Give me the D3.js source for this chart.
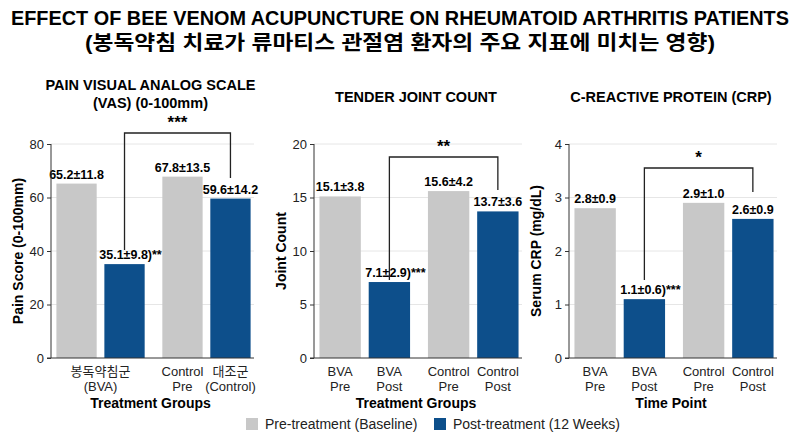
<!DOCTYPE html>
<html><head><meta charset="utf-8">
<script src="https://cdn.jsdelivr.net/npm/d3@7"></script>
<style>
body{margin:0;background:#fff;font-family:"Liberation Sans",Arial,"Noto Sans CJK KR",sans-serif;}
.grid line{stroke:#e6e6e6;}
.axis text{font-size:13px;fill:#222;}
.axis path,.axis line{stroke:#333;}
</style></head>
<body><div id="chart"></div>
<script>
// data
const keys = ["bvaPre", "bvaPost", "ctlPre", "ctlPost"];
const vasValues = [65.2, 35.1, 67.8, 59.6];
const vasLabels = ["65.2±11.8", "35.1±9.8)**", "67.8±13.5", "59.6±14.2"];
const tjcValues = [15.1, 7.1, 15.6, 13.7];
const tjcLabels = ["15.1±3.8", "7.1±2.9)***", "15.6±4.2", "13.7±3.6"];
const crpValues = [2.8, 1.1, 2.9, 2.6];
const crpLabels = ["2.8±0.9", "1.1±0.6)***", "2.9±1.0", "2.6±0.9"];
const tickTextsBva = ["BVA|Pre", "BVA|Post", "Control|Pre", "Control|Post"];
const tickTextsVas = ["", "", "Control|Pre", "대조군|(Control)"];
const gray = "#c8c8c8", blue = "#0d4f8b";
const colors = [gray, blue, gray, blue];

const W = 800, H = 436;
const svg = d3.select("#chart").append("svg").attr("width", W).attr("height", H);

svg.append("text").attr("x", 400).attr("y", 25).attr("text-anchor", "middle")
  .attr("textLength", 778).attr("lengthAdjust", "spacingAndGlyphs")
  .style("font-size", "21px").style("font-weight", "bold").text("EFFECT OF BEE VENOM ACUPUNCTURE ON RHEUMATOID ARTHRITIS PATIENTS");
svg.append("text").attr("x", 400).attr("y", 50).attr("text-anchor", "middle")
  .attr("textLength", 630).attr("lengthAdjust", "spacingAndGlyphs")
  .style("font-size", "20px").style("font-weight", "bold").text("(봉독약침 치료가 류마티스 관절염 환자의 주요 지표에 미치는 영향)");

function panel(o) {
  const g = svg.append("g");
  const x = d3.scaleBand().domain(keys).range([o.x0 + 8, o.x1 - 2]).paddingInner(0.16).paddingOuter(0.05);
  const xc = (k, i) => x(k) + (i < 2 ? -5 : 5);
  const y = d3.scaleLinear().domain([0, o.max]).range([358, 144]);

  g.append("g").attr("class", "grid").selectAll("line").data(y.ticks(4).slice(1)).join("line")
    .attr("x1", o.x0).attr("x2", o.x1 + 4).attr("y1", d => y(d)).attr("y2", d => y(d));

  g.selectAll("rect").data(o.values).join("rect")
    .attr("x", (d, i) => xc(keys[i], i)).attr("width", x.bandwidth())
    .attr("y", d => y(d)).attr("height", d => 358 - y(d)).attr("fill", (d, i) => colors[i]);

  g.selectAll(".vl").data(o.values).join("text")
    .attr("x", (d, i) => xc(keys[i], i) + x.bandwidth() / 2 + (i == 1 ? 6 : 0))
    .attr("y", d => y(d) - 5).attr("text-anchor", "middle")
    .style("font-size", "12.5px").style("font-weight", "bold").text((d, i) => o.labels[i]);

  const ya = g.append("g").attr("class", "axis").attr("transform", `translate(${o.x0},0)`)
    .call(d3.axisLeft(y).ticks(4).tickSize(4));
  ya.select(".domain").attr("d", `M-4,358H0V${y(o.max)}`);
  g.append("line").attr("x1", o.x0).attr("x2", o.x1 + 4).attr("y1", 358).attr("y2", 358).attr("stroke", "#333");

  // tick labels
  o.ticks.forEach((t, i) => {
    if (!t) return;
    const tx = g.append("text").attr("x", xc(keys[i], i) + x.bandwidth() / 2).attr("y", 376)
      .attr("text-anchor", "middle").style("font-size", "13px").style("fill", "#222");
    t.split("|").forEach((s, j) => tx.append("tspan").attr("x", xc(keys[i], i) + x.bandwidth() / 2).attr("dy", j ? 15 : 0).text(s));
  });
  if (o.extraTick) {
    const cx = (xc(keys[0], 0) + xc(keys[1], 1) + x.bandwidth()) / 2;
    const tx = g.append("text").attr("x", cx).attr("y", 376).attr("text-anchor", "middle").style("font-size", "13px").style("fill", "#222");
    o.extraTick.split("|").forEach((s, j) => tx.append("tspan").attr("x", cx).attr("dy", j ? 15 : 0).text(s));
  }

  g.append("text").attr("x", (o.x0 + o.x1) / 2).attr("y", 408).attr("text-anchor", "middle")
    .style("font-size", "14px").style("font-weight", "bold").text(o.xTitle);
  g.append("text").attr("transform", `translate(${o.x0 - 28},${251}) rotate(-90)`).attr("text-anchor", "middle")
    .style("font-size", "14px").style("font-weight", "bold").text(o.yTitle);
  o.title.forEach((s, j) => g.append("text").attr("x", (o.x0 + o.x1) / 2).attr("y", o.titleY + j * 18)
    .attr("text-anchor", "middle").style("font-size", "14.5px").style("font-weight", "bold").text(s));

  // significance bracket
  const bx1 = xc(keys[1], 1) + x.bandwidth() / 2, bx2 = xc(keys[3], 3) + x.bandwidth() / 2;
  g.append("path").attr("fill", "none").attr("stroke", "#222").attr("stroke-width", 1.3)
    .attr("d", `M${bx1},${o.bLeft}V${o.bTop}H${bx2}V${o.bRight}`);
  g.append("text").attr("x", (bx1 + bx2) / 2).attr("y", o.bTop - 5).attr("text-anchor", "middle")
    .style("font-size", "17px").style("font-weight", "bold").text(o.stars);
}

panel({x0: 51, x1: 250, max: 80, values: vasValues, labels: vasLabels, ticks: tickTextsVas, extraTick: "봉독약침군|(BVA)",
  xTitle: "Treatment Groups", yTitle: "Pain Score (0-100mm)", title: ["PAIN VISUAL ANALOG SCALE", "(VAS) (0-100mm)"], titleY: 90,
  bTop: 133, bLeft: 250, bRight: 178, stars: "***"});
panel({x0: 314, x1: 518, max: 20, values: tjcValues, labels: tjcLabels, ticks: tickTextsBva,
  xTitle: "Treatment Groups", yTitle: "Joint Count", title: ["TENDER JOINT COUNT"], titleY: 102,
  bTop: 157, bLeft: 280, bRight: 190, stars: "**"});
panel({x0: 569, x1: 773, max: 4, values: crpValues, labels: crpLabels, ticks: tickTextsBva,
  xTitle: "Time Point", yTitle: "Serum CRP (mg/dL)", title: ["C-REACTIVE PROTEIN (CRP)"], titleY: 102,
  bTop: 168, bLeft: 280, bRight: 192, stars: "*"});

// legend
const legend = [["Pre-treatment (Baseline)", gray, 246], ["Post-treatment (12 Weeks)", blue, 434]];
legend.forEach(([t, c, lx]) => {
  svg.append("rect").attr("x", lx).attr("y", 418).attr("width", 12).attr("height", 12).attr("fill", c);
  svg.append("text").attr("x", lx + 19).attr("y", 429).style("font-size", "14px").style("fill", "#222").text(t);
});
</script></body></html>
